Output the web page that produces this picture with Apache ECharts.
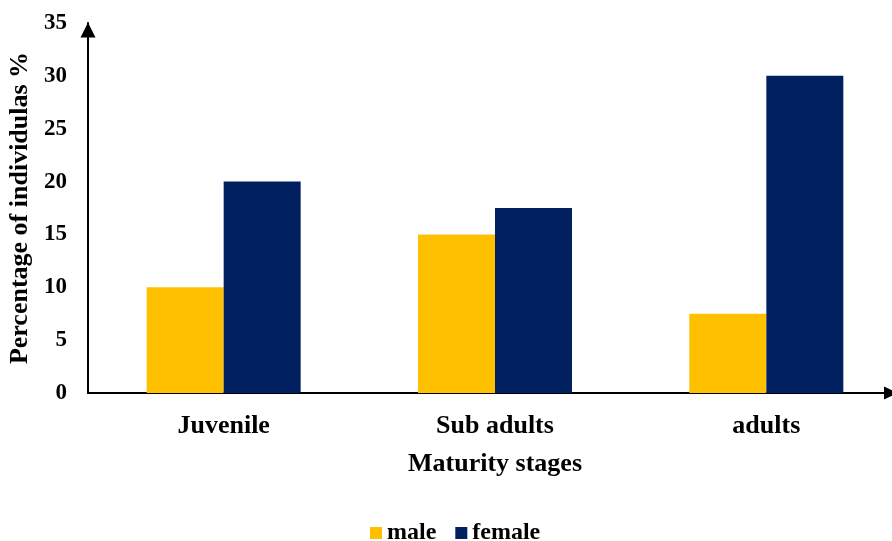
<!DOCTYPE html>
<html>
<head>
<meta charset="utf-8">
<script src="https://cdn.jsdelivr.net/npm/echarts@6/dist/echarts.min.js"></script>
<style>
  html, body { margin: 0; padding: 0; background: #fff; }
  #main { width: 892px; height: 541px; }
</style>
</head>
<body>
<div id="main"></div>
<script>
var stages = ['Juvenile', 'Sub adults', 'adults'];
var maleValues = [10, 15, 7.5];
var femaleValues = [20, 17.5, 30];

var chart = echarts.init(document.getElementById('main'));
var font = 'Liberation Serif';

var option = {
  animation: false,
  textStyle: { fontFamily: font },
  legend: {
    top: 521,
    left: 370,
    padding: 0,
    itemWidth: 12,
    itemHeight: 12,
    itemGap: 19,
    icon: 'rect',
    textStyle: { fontFamily: font, fontWeight: 'bold', fontSize: 24, color: '#000' },
    data: ['male', 'female']
  },
  grid: {
    left: 88,
    right: -10,
    top: 23,
    bottom: 148,
    outerBoundsMode: 'none'
  },
  xAxis: {
    type: 'category',
    data: stages,
    name: 'Maturity stages',
    nameLocation: 'middle',
    nameGap: 58,
    nameTextStyle: { fontFamily: font, fontWeight: 'bold', fontSize: 26, color: '#000' },
    axisLine: {
      lineStyle: { color: '#000', width: 2 },
      symbol: ['none', 'triangle'],
      symbolSize: [13, 14],
      symbolOffset: [0, -11]
    },
    axisTick: { show: false },
    axisLabel: { fontFamily: font, fontWeight: 'bold', fontSize: 26, color: '#000', margin: 20 }
  },
  yAxis: {
    type: 'value',
    min: 0,
    max: 35,
    interval: 5,
    name: 'Percentage of individulas %',
    nameLocation: 'middle',
    nameGap: 53,
    nameTextStyle: { fontFamily: font, fontWeight: 'bold', fontSize: 26, color: '#000' },
    axisLine: {
      show: true,
      lineStyle: { color: '#000', width: 2 },
      symbol: ['none', 'triangle'],
      symbolSize: [15, 15],
      symbolOffset: [0, -7]
    },
    axisTick: { show: false },
    splitLine: { show: false },
    axisLabel: { fontFamily: font, fontWeight: 'bold', fontSize: 23, color: '#000', margin: 21 }
  },
  series: [
    {
      name: 'male',
      type: 'bar',
      data: maleValues,
      barWidth: 77,
      barGap: '0%',
      itemStyle: { color: '#FFC000' }
    },
    {
      name: 'female',
      type: 'bar',
      data: femaleValues,
      barWidth: 77,
      barGap: '0%',
      itemStyle: { color: '#002060' }
    }
  ]
};

chart.setOption(option);
</script>
</body>
</html>
